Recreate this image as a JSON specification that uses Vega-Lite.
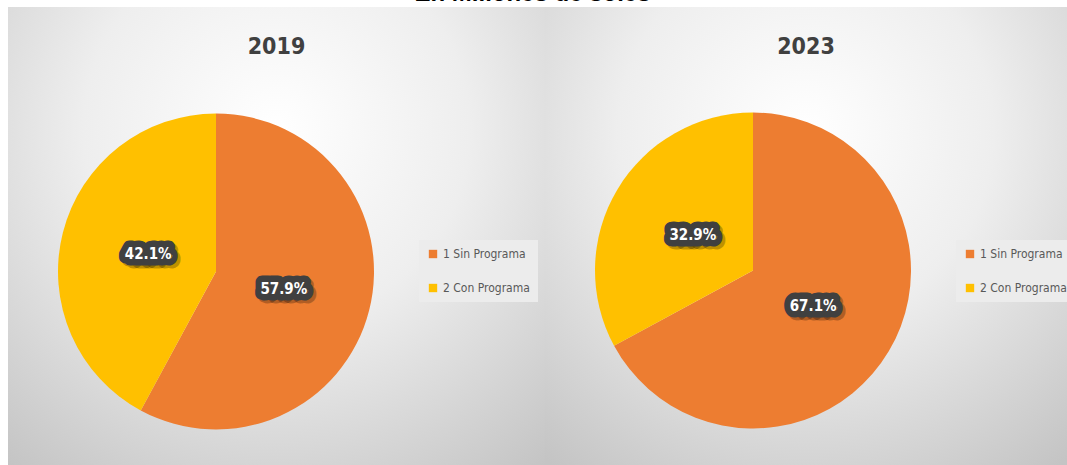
{
  "$schema": "https://vega.github.io/schema/vega-lite/v6.json",
  "autosize": {"type": "pad"},
  "padding": {"left": 8, "top": -18, "right": 0, "bottom": 0},
  "background": "#ffffff",
  "bounds": "flush",
  "title": {
    "text": "En Millones de soles",
    "font": "Liberation Sans, Arial, sans-serif",
    "fontSize": 24,
    "fontWeight": "bold",
    "color": "#000000",
    "anchor": "middle",
    "baseline": "alphabetic",
    "offset": -18,
    "dx": -9
  },
  "datasets": {
    "pies": [
      {"year": "2019", "grupo": "1 Sin Programa", "share": 0.579},
      {"year": "2019", "grupo": "2 Con Programa", "share": 0.421},
      {"year": "2023", "grupo": "1 Sin Programa", "share": 0.671},
      {"year": "2023", "grupo": "2 Con Programa", "share": 0.329}
    ]
  },
  "spacing": 0,
  "resolve": {"scale": {"color": "independent"}, "legend": {"color": "independent"}},
  "hconcat": [
    {
      "width": 537,
      "height": 460,
      "data": {"name": "pies"},
      "transform": [{"filter": "datum.year === '2019'"}],
      "title": {"text": "2019", "offset": -52},
      "layer": [
        {
          "mark": {"type": "rect", "fill": {"gradient": "radial", "x1": 0.5, "y1": 0.3, "r1": 0, "x2": 0.5, "y2": 0.3, "r2": 0.8, "stops": [{"offset": 0, "color": "#ffffff"}, {"offset": 0.45, "color": "#eeeeee"}, {"offset": 1, "color": "#c4c4c4"}]}},
          "encoding": {}
        },
        {
          "mark": {"type": "arc", "outerRadius": 158, "xOffset": -60.5, "yOffset": 34.5},
          "encoding": {
            "theta": {"field": "share", "type": "quantitative", "stack": true},
            "order": {"field": "grupo", "sort": "ascending"},
            "color": {
              "field": "grupo", "type": "nominal",
              "scale": {"domain": ["1 Sin Programa", "2 Con Programa"], "range": ["#ED7D31", "#FFC000"]},
              "legend": {"title": null, "orient": "none", "legendX": 411, "legendY": 233}
            }
          }
        },
        {
          "mark": {"type": "text", "radius": 70, "xOffset": -57.5, "yOffset": 37.5, "fill": "#000000", "fillOpacity": 0.25, "stroke": "#000000", "strokeOpacity": 0.25, "strokeWidth": 13, "strokeJoin": "round"},
          "encoding": {"theta": {"field": "share", "type": "quantitative", "stack": true}, "order": {"field": "grupo", "sort": "ascending"}, "text": {"field": "share", "format": ".1%"}}
        },
        {
          "mark": {"type": "text", "radius": 70, "xOffset": -60.5, "yOffset": 34.5, "fill": "#404040", "stroke": "#404040", "strokeWidth": 13, "strokeJoin": "round"},
          "encoding": {"theta": {"field": "share", "type": "quantitative", "stack": true}, "order": {"field": "grupo", "sort": "ascending"}, "text": {"field": "share", "format": ".1%"}}
        },
        {
          "mark": {"type": "text", "radius": 70, "xOffset": -60.5, "yOffset": 34.5, "fill": "#ffffff"},
          "encoding": {"theta": {"field": "share", "type": "quantitative", "stack": true}, "order": {"field": "grupo", "sort": "ascending"}, "text": {"field": "share", "format": ".1%"}}
        }
      ]
    },
    {
      "width": 522,
      "height": 460,
      "data": {"name": "pies"},
      "transform": [{"filter": "datum.year === '2023'"}],
      "title": {"text": "2023", "offset": -52},
      "layer": [
        {
          "mark": {"type": "rect", "fill": {"gradient": "radial", "x1": 0.5, "y1": 0.3, "r1": 0, "x2": 0.5, "y2": 0.3, "r2": 0.8, "stops": [{"offset": 0, "color": "#ffffff"}, {"offset": 0.45, "color": "#eeeeee"}, {"offset": 1, "color": "#c4c4c4"}]}},
          "encoding": {}
        },
        {
          "mark": {"type": "arc", "outerRadius": 158, "xOffset": -53, "yOffset": 33.5},
          "encoding": {
            "theta": {"field": "share", "type": "quantitative", "stack": true},
            "order": {"field": "grupo", "sort": "ascending"},
            "color": {
              "field": "grupo", "type": "nominal",
              "scale": {"domain": ["1 Sin Programa", "2 Con Programa"], "range": ["#ED7D31", "#FFC000"]},
              "legend": {"title": null, "orient": "none", "legendX": 411, "legendY": 233}
            }
          }
        },
        {
          "mark": {"type": "text", "radius": 70, "xOffset": -50, "yOffset": 36.5, "fill": "#000000", "fillOpacity": 0.25, "stroke": "#000000", "strokeOpacity": 0.25, "strokeWidth": 13, "strokeJoin": "round"},
          "encoding": {"theta": {"field": "share", "type": "quantitative", "stack": true}, "order": {"field": "grupo", "sort": "ascending"}, "text": {"field": "share", "format": ".1%"}}
        },
        {
          "mark": {"type": "text", "radius": 70, "xOffset": -53, "yOffset": 33.5, "fill": "#404040", "stroke": "#404040", "strokeWidth": 13, "strokeJoin": "round"},
          "encoding": {"theta": {"field": "share", "type": "quantitative", "stack": true}, "order": {"field": "grupo", "sort": "ascending"}, "text": {"field": "share", "format": ".1%"}}
        },
        {
          "mark": {"type": "text", "radius": 70, "xOffset": -53, "yOffset": 33.5, "fill": "#ffffff"},
          "encoding": {"theta": {"field": "share", "type": "quantitative", "stack": true}, "order": {"field": "grupo", "sort": "ascending"}, "text": {"field": "share", "format": ".1%"}}
        }
      ]
    }
  ],
  "config": {
    "view": {"stroke": "#b4b4b4", "strokeWidth": 1},
    "title": {
      "font": "Liberation Sans Narrow, DejaVu Sans Condensed, sans-serif",
      "fontSize": 23,
      "fontWeight": "bold",
      "color": "#404040",
      "baseline": "alphabetic",
      "anchor": "middle"
    },
    "text": {
      "font": "Liberation Sans Narrow, DejaVu Sans Condensed, sans-serif",
      "fontSize": 15,
      "fontWeight": "bold",
      "align": "center",
      "baseline": "middle"
    },
    "legend": {
      "symbolType": "square",
      "symbolSize": 70,
      "labelFont": "Liberation Sans Narrow, DejaVu Sans Condensed, sans-serif",
      "labelFontSize": 12,
      "labelColor": "#595959",
      "labelOffset": 4,
      "rowPadding": 22,
      "padding": 8,
      "fillColor": "#ececec",
      "symbolStrokeWidth": 0
    }
  }
}
